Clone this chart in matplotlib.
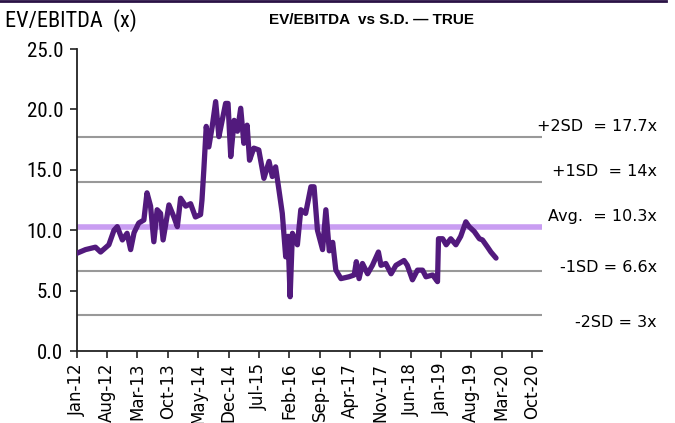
import pandas as pd
import numpy as np
import matplotlib
matplotlib.use("Agg")
import matplotlib.pyplot as plt
import matplotlib.transforms as mtransforms

# EV/EBITDA history
dates = ["2012-01-01", "2012-03-01", "2012-05-10", "2012-06-15", "2012-08-12",
         "2012-09-17", "2012-10-10", "2012-11-15", "2012-12-18", "2013-01-12",
         "2013-02-05", "2013-03-10", "2013-04-15", "2013-05-07", "2013-06-01",
         "2013-06-24", "2013-07-17", "2013-08-10", "2013-08-28", "2013-10-08",
         "2013-11-12", "2013-12-06", "2013-12-29", "2014-02-03", "2014-03-09",
         "2014-04-12", "2014-05-18", "2014-05-28", "2014-06-10", "2014-06-27",
         "2014-07-15", "2014-08-08", "2014-09-01", "2014-09-24", "2014-10-17",
         "2014-11-10", "2014-11-27", "2014-12-16", "2015-01-09", "2015-02-01",
         "2015-02-24", "2015-03-18", "2015-04-10", "2015-04-27", "2015-05-27",
         "2015-07-01", "2015-08-06", "2015-09-11", "2015-10-04", "2015-10-27",
         "2015-11-20", "2015-12-13", "2016-01-06", "2016-01-22", "2016-02-06",
         "2016-02-22", "2016-03-28", "2016-04-21", "2016-05-25", "2016-07-01",
         "2016-07-23", "2016-08-16", "2016-09-21", "2016-10-14", "2016-11-07",
         "2016-12-01", "2016-12-23", "2017-01-28", "2017-03-25", "2017-05-01",
         "2017-05-16", "2017-06-04", "2017-06-28", "2017-08-03", "2017-09-06",
         "2017-10-18", "2017-11-05", "2017-12-09", "2018-01-15", "2018-02-18",
         "2018-04-16", "2018-05-09", "2018-06-14", "2018-07-19", "2018-08-24",
         "2018-09-17", "2018-11-03", "2018-12-07", "2018-12-14", "2019-01-12",
         "2019-02-06", "2019-03-10", "2019-04-15", "2019-05-19", "2019-06-24",
         "2019-07-17", "2019-08-22", "2019-09-27", "2019-10-19", "2019-11-24",
         "2019-12-17", "2020-01-22"]
ev_ebitda = [8.1, 8.4, 8.6, 8.2, 8.8,
             10.0, 10.3, 9.2, 9.75, 8.4,
             9.8, 10.6, 10.85, 13.1, 12.0,
             9.05, 11.7, 11.4, 9.2, 12.1,
             11.1, 10.3, 12.65, 12.0, 12.2,
             11.1, 11.3, 12.5, 15.0, 18.6,
             16.9, 18.6, 20.65, 17.75, 19.1,
             20.5, 20.5, 16.1, 19.1, 18.2,
             20.1, 17.2, 18.7, 15.8, 16.8,
             16.65, 14.3, 15.7, 14.45, 15.25,
             13.3, 11.4, 7.8, 9.5, 4.5,
             9.75, 8.8, 11.7, 11.4, 13.6,
             13.6, 10.0, 8.4, 11.7, 8.3,
             9.0, 6.7, 6.0, 6.15, 6.3,
             7.4, 6.0, 7.25, 6.4, 7.1,
             8.2, 7.1, 7.25, 6.4, 7.1,
             7.5, 7.1, 5.9, 6.7, 6.7,
             6.15, 6.3, 5.75, 9.3, 9.3,
             8.8, 9.3, 8.8, 9.5, 10.7,
             10.3, 9.9, 9.3, 9.2, 8.6,
             8.2, 7.7]

band_names = ["+2SD", "+1SD", "Avg.", "-1SD", "-2SD"]
band_values = [17.7, 14.0, 10.3, 6.6, 3.0]
band_text = ["+2SD  = 17.7x", "+1SD  = 14x", "Avg.  = 10.3x", "-1SD = 6.6x", "-2SD = 3x"]

df = pd.DataFrame({"date": pd.to_datetime(dates), "ev": ev_ebitda})

narrow = ["DejaVu Sans Condensed", "Liberation Sans Narrow", "Roboto Condensed", "DejaVu Sans"]
plt.rcParams["font.family"] = "DejaVu Sans"

fig = plt.figure(figsize=(6.75, 4.23), dpi=100)
ax = fig.add_axes([0.114, 0.170, 0.689, 0.714])

purple = "#521a7d"
lavender = "#c99df2"
grey = "#999999"

# SD bands
for name, val in zip(band_names, band_values):
    if name == "Avg.":
        ax.axhline(val, color=lavender, lw=4, zorder=2)
    else:
        ax.axhline(val, color=grey, lw=1.5, zorder=1)

ax.plot(df["date"], df["ev"], color=purple, lw=3.8, solid_joinstyle="round",
        solid_capstyle="round", zorder=3)

ax.set_ylim(0, 25)
ax.set_yticks(np.arange(0, 25.1, 5))
ax.yaxis.set_major_formatter(matplotlib.ticker.FormatStrFormatter("%.1f"))
for lab in ax.get_yticklabels():
    lab.set_fontfamily(narrow)
    lab.set_fontsize(15)

ax.set_xlim(pd.Timestamp("2012-01-01"), pd.Timestamp("2020-12-10"))
ticks = pd.date_range("2012-01-01", "2020-10-01", freq="7MS")
ax.set_xticks(ticks)
ax.set_xticklabels([t.strftime("%b-%y") for t in ticks], rotation=90, fontsize=12)

# labels on the right, slightly offset from each line
label_y = [18.56, 14.83, 11.18, 6.88, 2.4]
trans = mtransforms.blended_transform_factory(fig.transFigure, ax.transData)
for txt, y in zip(band_text, label_y):
    ax.text(0.973, y, txt, transform=trans, ha="right", va="center",
            fontsize=11.5, color="black", clip_on=False)

ax.spines["top"].set_visible(False)
ax.spines["right"].set_visible(False)
for s in ["left", "bottom"]:
    ax.spines[s].set_linewidth(1.3)
    ax.spines[s].set_color("#222222")
ax.tick_params(axis="both", direction="out", length=5, width=1.2, color="#222222")
ax.tick_params(axis="y", pad=5)

fig.text(0.008, 0.952, "EV/EBITDA  (x)", fontsize=16, family=narrow, va="center")
fig.text(0.55, 0.952, "EV/EBITDA  vs S.D. \u2014 TRUE", fontsize=11, family="Liberation Sans",
         weight="bold", ha="center", va="center")

# dark rule at the very top
fig.add_artist(plt.Line2D([0, 0.987], [0.998, 0.998], color="#2a1245", lw=2, transform=fig.transFigure))

fig.savefig("out.png", dpi=100)
